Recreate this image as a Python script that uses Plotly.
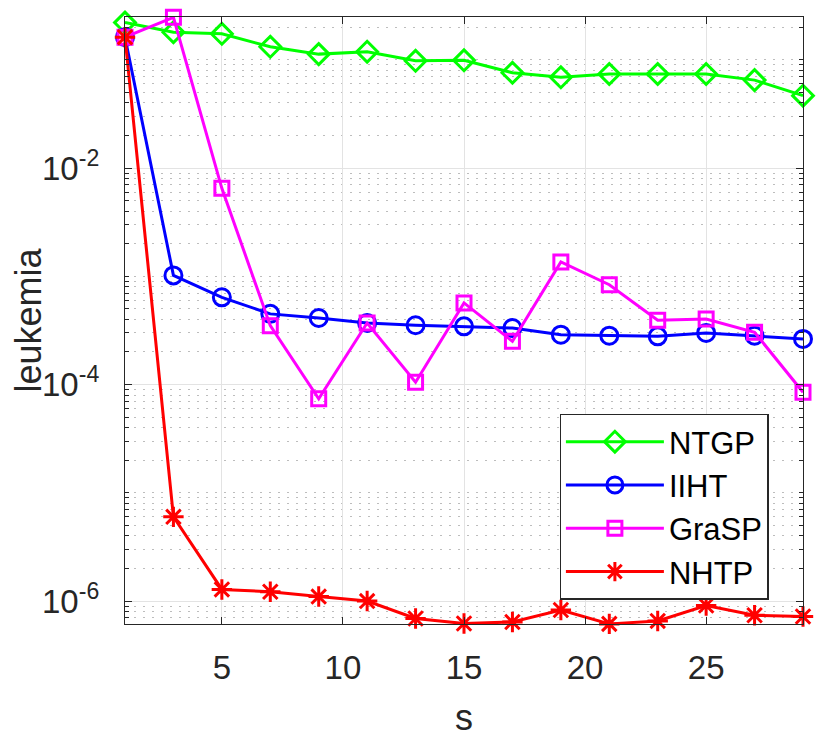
import plotly.graph_objects as go

s = [1, 3, 5, 7, 9, 11, 13, 15, 17, 19, 21, 23, 25, 27, 29]

ntgp = [0.221, 0.180, 0.174, 0.132, 0.113, 0.119, 0.098, 0.099, 0.076,
        0.069, 0.074, 0.074, 0.074, 0.065, 0.0467]
iiht = [0.162, 1.02e-3, 6.4e-4, 4.5e-4, 4.12e-4, 3.71e-4, 3.53e-4, 3.45e-4,
        3.33e-4, 2.89e-4, 2.83e-4, 2.79e-4, 3.0e-4, 2.83e-4, 2.64e-4]
grasp = [0.162, 0.247, 6.5e-3, 3.5e-4, 7.4e-5, 3.71e-4, 1.05e-4, 5.68e-4,
         2.51e-4, 1.36e-3, 8.37e-4, 3.93e-4, 4.03e-4, 3.04e-4, 8.5e-5]
nhtp = [0.162, 6.0e-6, 1.28e-6, 1.22e-6, 1.10e-6, 1.0e-6, 6.9e-7, 6.2e-7,
        6.4e-7, 8.26e-7, 6.15e-7, 6.55e-7, 9.1e-7, 7.4e-7, 7.2e-7]

names = ["NTGP", "IIHT", "GraSP", "NHTP"]
colors = ["#00ff00", "#0000ff", "#ff00ff", "#ff0000"]
symbols = ["diamond-open", "circle-open", "square-open", "asterisk-open"]
msizes = [16, 17, 14, 17]

x_ticks = [5, 10, 15, 20, 25]
y_ticks = [1e-6, 1e-4, 1e-2]
y_ticktext = ["10<sup>-6</sup>", "10<sup>-4</sup>", "10<sup>-2</sup>"]
y_minor = [m * 10.0 ** k for k in range(-7, 0) for m in range(1, 10)
           if not (m == 1 and k in (-6, -4, -2))]

FONT = "Liberation Sans, Arial, Helvetica, sans-serif"
AX = "#262626"

fig = go.Figure()
for name, ys, c, sym, ms in zip(names, [ntgp, iiht, grasp, nhtp], colors, symbols, msizes):
    fig.add_trace(go.Scatter(
        x=s, y=ys, name=name, mode="lines+markers",
        line=dict(color=c, width=3),
        marker=dict(symbol=sym, size=ms, color=c, line=dict(color=c, width=3)),
        cliponaxis=False,
    ))

# page body has an 8px default margin, so the figure is 8px smaller
fig.update_layout(
    width=822, height=733,
    margin=dict(l=117, r=27, t=9, b=117, autoexpand=False),
    paper_bgcolor="white", plot_bgcolor="white",
    font=dict(family=FONT, color=AX, size=33),
    showlegend=True,
    legend=dict(
        x=0.641, y=0.04, xanchor="left", yanchor="bottom",
        bgcolor="white", bordercolor=AX, borderwidth=1.3,
        font=dict(family=FONT, size=31, color="black"),
        itemwidth=98,
    ),
    xaxis=dict(
        range=[1, 29], tickmode="array", tickvals=x_ticks,
        ticks="inside", ticklen=7, tickwidth=1.3, tickcolor=AX,
        showline=True, linecolor=AX, linewidth=1.3, mirror="ticks",
        showgrid=True, gridcolor="#e3e3e3", gridwidth=1.3,
        zeroline=False, ticklabelstandoff=14, automargin=False,
        tickfont=dict(size=33, color=AX),
        title=dict(text="s", font=dict(size=36, color=AX), standoff=20),
    ),
    yaxis=dict(
        type="log", range=[-6.212, -0.604],
        tickmode="array", tickvals=y_ticks, ticktext=y_ticktext,
        ticks="inside", ticklen=7, tickwidth=1.3, tickcolor=AX,
        showline=True, linecolor=AX, linewidth=1.3, mirror="ticks",
        showgrid=True, gridcolor="#e3e3e3", gridwidth=1.3,
        zeroline=False, ticklabelstandoff=18, automargin=False,
        tickfont=dict(size=33, color=AX),
        title=dict(text="leukemia", font=dict(size=36, color=AX), standoff=21),
        minor=dict(
            tickmode="array", tickvals=y_minor,
            ticks="inside", ticklen=4, tickwidth=1.1, tickcolor=AX,
            showgrid=True, gridcolor="#bdbdbd", gridwidth=1.2, griddash="2px,7px",
        ),
    ),
)

fig.write_html("out.html")
